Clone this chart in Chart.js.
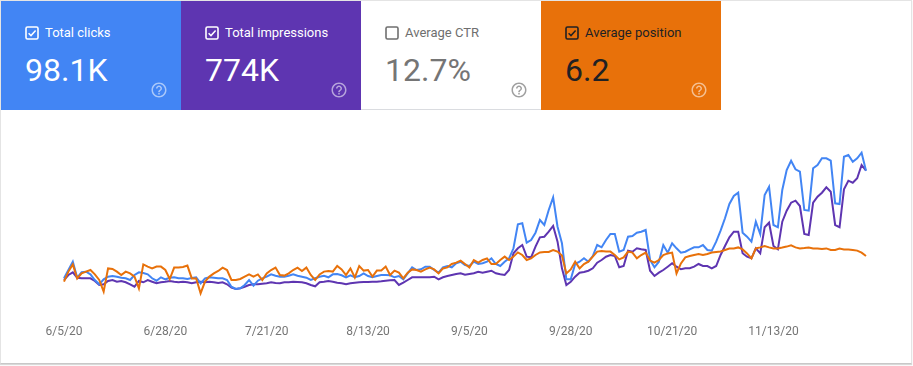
<!DOCTYPE html>
<html>
<head>
<meta charset="utf-8">
<script src="https://cdn.jsdelivr.net/npm/chart.js@4.4.0/dist/chart.umd.min.js"></script>
<style>
body { margin: 0; background: #fff; font-family: Roboto, Arial, sans-serif; width: 913px; height: 366px; overflow: hidden; }
#card { position: absolute; left: 0; top: 0; width: 912px; height: 364px; box-sizing: border-box; border: 1px solid #e4e4e4; border-bottom-color: #c8c8c8; box-shadow: 0 1px 1px rgba(0,0,0,0.15); }
.tile { position: absolute; top: 0; width: 180px; height: 109px; }
.tile .box { position: absolute; left: 24px; top: 25px; width: 14px; height: 14px; }
.tile .name { position: absolute; left: 44px; top: 24px; font-size: 13px; line-height: 16px; white-space: nowrap; }
.tile .value { position: absolute; left: 24px; top: 50px; font-size: 32px; line-height: 38px; white-space: nowrap; }
.tile .help { position: absolute; left: 149px; top: 80px; width: 18px; height: 18px; }
#clicks { left: 0; background: #4285f4; color: #fff; }
#impr { left: 180px; background: #5e35b1; color: #fff; }
#ctr { left: 360px; background: #fff; color: #757575; height: 108px; border-bottom: 1px solid #dadce0; }
#ctr .name { color: #6f6f6f; }
#pos { left: 540px; background: #e8710a; color: #202124; }
#chart { position: absolute; left: 0; top: 115px; }
</style>
</head>
<body>
<div id="card">
  <div class="tile" id="clicks"></div>
  <div class="tile" id="impr"></div>
  <div class="tile" id="ctr"></div>
  <div class="tile" id="pos"></div>
</div>
<canvas id="chart" width="913" height="245"></canvas>
<script>
// metric tiles
const tileIds = ['clicks', 'impr', 'ctr', 'pos']
const tileNames = ['Total clicks', 'Total impressions', 'Average CTR', 'Average position']
const tileValues = ['98.1K', '774K', '12.7%', '6.2']
const tileChecked = [true, true, false, true]

// daily values 6/5/20 .. 12/4/20
const clicks = [
  217,300,383,223,277,283,257,200,157,207,
  233,240,233,223,217,200,250,277,270,257,
  217,193,227,207,223,227,217,217,210,220,
  227,167,217,227,223,217,217,200,133,110,
  117,150,200,143,193,217,233,257,243,233,
  233,243,257,243,233,223,200,217,233,243,
  227,257,260,247,227,247,227,240,267,240,
  227,240,250,250,247,227,240,207,267,327,
  300,307,333,333,300,273,327,340,327,367,
  383,350,340,383,360,367,383,417,360,340,
  383,417,517,757,767,573,600,673,800,750,
  900,1027,733,567,207,207,360,383,417,383,
  440,550,527,600,660,660,483,500,633,640,
  673,683,700,400,327,383,550,473,567,517,
  473,483,507,527,527,550,500,493,583,693,
  817,960,1040,1073,673,633,583,783,660,1050,
  1133,750,727,1100,1300,1393,1307,1283,900,893,
  1317,1350,1417,1417,1393,967,960,1433,1450,1383,
  1417,1473,1293
]

const impressions = [
  3000,3500,3770,3230,3170,3170,3170,2900,2500,2570,
  2900,3000,2830,2900,2770,2570,2330,2900,2770,3000,
  2830,2670,2770,2830,2900,2830,2770,2830,2770,2670,
  2770,2830,2770,2830,2770,2700,2770,2570,2230,2100,
  2170,2330,2500,2570,2570,2630,2670,2770,2700,2670,
  2770,2770,2830,2800,2770,2670,2500,2370,2770,2830,
  2900,2830,2730,2670,2570,2670,2730,2770,2800,2800,
  2830,2830,2870,2930,2970,3000,2500,2730,3000,3270,
  3270,3270,3270,3270,3330,3070,3270,3400,3500,3600,
  3670,3530,3600,3670,3830,3730,3830,3930,3670,3570,
  3500,4000,5670,6170,6500,5330,5270,6330,7270,7330,
  7830,8400,6830,4170,2500,2830,3330,3730,3800,3930,
  4170,4730,5000,5330,5500,5400,4270,4400,5930,5830,
  6170,6070,6000,3930,3400,3730,4000,4330,4670,4330,
  4070,4170,4170,4330,4600,4400,4400,4170,4400,5500,
  6400,7270,7830,7830,5670,5330,5170,6170,5670,8270,
  8730,6400,6070,8830,9930,10730,10930,10400,7600,7500,
  10730,11330,11730,12270,11830,8500,8270,12070,12930,12730,
  13170,14500,13930
]

const position = [
  7.08,6.58,6.22,6.92,6.67,6.58,6.5,6.72,7.0,7.58,
  6.42,6.45,6.58,6.75,6.58,6.67,6.83,7.42,6.22,6.33,
  6.42,6.33,6.33,6.5,6.95,6.38,6.38,6.35,6.28,6.92,
  6.92,7.67,7.08,6.83,6.67,6.55,6.38,6.5,7.0,7.0,
  6.95,6.83,6.72,6.83,6.72,7.0,6.67,6.5,6.38,6.75,
  6.78,6.67,6.5,6.38,6.55,6.38,6.75,7.0,6.72,6.58,
  6.55,6.58,6.3,6.47,6.75,6.42,6.87,6.3,6.53,6.5,
  6.83,6.53,6.53,6.33,6.75,6.53,6.63,6.92,6.63,6.47,
  6.5,6.58,6.47,6.38,6.47,6.67,6.42,6.37,6.2,6.13,
  6.03,6.2,6.37,6.0,6.13,6.0,5.92,6.2,6.2,6.0,
  5.83,6.0,5.83,5.62,5.75,6.0,5.92,5.75,5.62,5.6,
  5.6,5.5,5.58,5.78,6.67,6.47,6.08,6.42,6.2,6.08,
  5.83,5.58,5.55,5.58,5.58,5.75,5.97,5.87,5.58,5.63,
  5.92,5.75,5.63,6.03,6.13,6.0,5.75,5.67,5.63,6.67,
  6.17,5.87,5.8,5.75,5.7,5.75,5.7,5.63,5.6,5.57,
  5.5,5.43,5.42,5.37,5.47,5.67,5.92,5.42,5.37,5.3,
  5.37,5.42,5.42,5.38,5.33,5.27,5.37,5.42,5.4,5.37,
  5.42,5.42,5.45,5.42,5.5,5.5,5.43,5.47,5.47,5.5,
  5.53,5.63,5.8
]

// only these dates get a tick label
const tickLabels = ['6/5/20', '6/28/20', '7/21/20', '8/13/20', '9/5/20', '9/28/20', '10/21/20', '11/13/20']

// one label per day
const days = []
for (let i = 0; i < clicks.length; i++) {
    const d = new Date(2020, 5, 5 + i)
    days.push((d.getMonth() + 1) + '/' + d.getDate() + '/20')
}

// build the tiles
const helpPath = 'M11 18h2v-2h-2v2zm1-16C6.48 2 2 6.48 2 12s4.48 10 10 10 10-4.48 10-10S17.52 2 12 2zm0 18c-4.41 0-8-3.59-8-8s3.59-8 8-8 8 3.59 8 8-3.59 8-8 8zm0-14c-2.21 0-4 1.79-4 4h2c0-1.1.9-2 2-2s2 .9 2 2c0 2-3 1.75-3 5h2c0-2.25 3-2.5 3-5 0-2.21-1.79-4-4-4z'
const boxColor = ['#fff', '#fff', '#6f6f6f', '#202124']
const helpColor = ['rgba(255,255,255,0.55)', 'rgba(255,255,255,0.55)', '#a0a0a0', 'rgba(255,255,255,0.55)']
for (let i = 0; i < tileIds.length; i++) {
    const el = document.getElementById(tileIds[i])
    let box = '<svg class="box" viewBox="0 0 14 14"><rect x="1" y="1" width="12" height="12" rx="1.5" fill="none" stroke="' + boxColor[i] + '" stroke-width="1.6"/>'
    if (tileChecked[i])
        box += '<polyline points="3.6,7.2 6,9.6 10.6,4.6" fill="none" stroke="' + boxColor[i] + '" stroke-width="1.5"/>'
    box += '</svg>'
    el.innerHTML = box +
        '<div class="name">' + tileNames[i] + '</div>' +
        '<div class="value">' + tileValues[i] + '</div>' +
        '<svg class="help" viewBox="0 0 24 24"><path fill="' + helpColor[i] + '" d="' + helpPath + '"/></svg>'
}

const data = {
labels: days,
datasets: [{
    label: 'Average position',
    data: position,
    borderColor: '#e8710a',
    yAxisID: 'yP',
    order: 0
}, {
    label: 'Total clicks',
    data: clicks,
    borderColor: '#4285f4',
    yAxisID: 'yC',
    order: 1
}, {
    label: 'Total impressions',
    data: impressions,
    borderColor: '#5e35b1',
    yAxisID: 'yI',
    order: 2
}]
};

const config = {
type: 'line',
data: data,
options: {
    responsive: false,
    animation: false,
    layout: { padding: { left: 64, right: 47, top: 25, bottom: 0 } },
    elements: {
        line: { borderWidth: 2, tension: 0 },
        point: { radius: 0 }
    },
    plugins: { legend: { display: false }, tooltip: { enabled: false } },
    scales: {
        x: {
            grid: { display: false, drawTicks: false },
            border: { display: false },
            afterFit: function (scale) { scale.height = 60 },
            ticks: {
                autoSkip: false,
                maxRotation: 0,
                minRotation: 0,
                padding: 25,
                color: '#757575',
                font: { family: 'Roboto', size: 12 },
                callback: function (v) {
                    const l = this.getLabelForValue(v)
                    return tickLabels.includes(l) ? l : ''
                }
            }
        },
        yC: { display: false, min: 0, max: 1600 },
        yI: { display: false, min: 1000, max: 17000 },
        yP: { display: false, reverse: true, min: 0, max: 8 }
    }
}
};

const chart = new Chart(
document.getElementById('chart'),
config
);
</script>
</body>
</html>
